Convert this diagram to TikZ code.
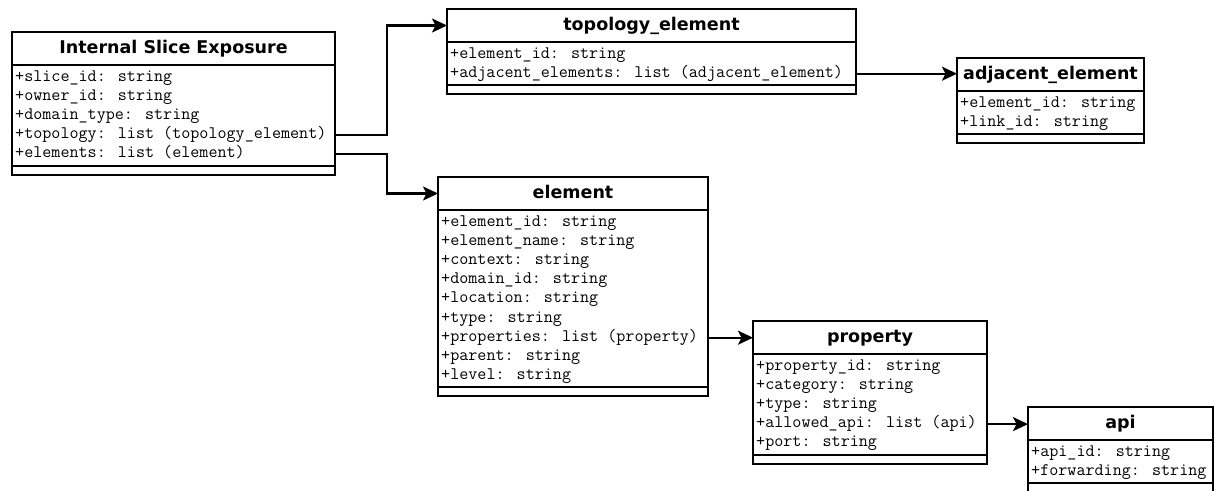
\documentclass[tikz,border=0pt]{standalone}
\usepackage{fontspec}
\newfontfamily\clsfont{DejaVu Sans}
\usetikzlibrary{positioning,arrows.meta}
\tikzset{
  cls/.style={draw,line width=2.2pt,inner sep=0pt,outer sep=0pt},
  clstitle/.style={cls,anchor=north west,minimum height=33pt,text height=12.5pt,text depth=3.5pt,
    font=\clsfont\bfseries\fontsize{17.5}{19}\selectfont},
  clsbody/.style={cls,minimum height=#1},
  clsfoot/.style={cls,minimum height=9pt},
  attr/.style={anchor=west,inner sep=0pt,text height=11pt,text depth=4pt,
    font=\ttfamily\fontsize{17.6}{19}\selectfont},
  link/.style={line width=2.2pt,-{Stealth[length=15pt,width=14pt,inset=3.5pt]}}
}

\begin{document}
\begin{tikzpicture}[x=1pt,y=-1pt]
  \clip (0,0) rectangle (1214,490);

  % Internal Slice Exposure
  \node[clstitle,minimum width=323pt] (ise) at (12,32) {Internal Slice Exposure};
  \node[clsbody=101pt,minimum width=323pt,below=0pt of ise] (isebody) {};
  \node[clsfoot,minimum width=323pt,below=0pt of isebody] (isefoot) {};
  \foreach \t [count=\i] in {+slice\_id: string,+owner\_id: string,+domain\_type: string,
      +topology: list (topology\_element),+elements: list (element)}
    \node[attr] (ise\i) at ([xshift=3pt,yshift={-12.5pt-(\i-1)*19.2pt}]isebody.north west) {\t};

  % topology_element
  \node[clstitle,minimum width=409pt] (topo) at (447,9) {topology\_element};
  \node[clsbody=43pt,minimum width=409pt,below=0pt of topo] (topobody) {};
  \node[clsfoot,minimum width=409pt,below=0pt of topobody] (topofoot) {};
  \foreach \t [count=\i] in {+element\_id: string,+adjacent\_elements: list (adjacent\_element)}
    \node[attr] (topo\i) at ([xshift=3pt,yshift={-12.5pt-(\i-1)*19.2pt}]topobody.north west) {\t};

  % adjacent_element
  \node[clstitle,minimum width=187pt] (adj) at (957,58) {adjacent\_element};
  \node[clsbody=43pt,minimum width=187pt,below=0pt of adj] (adjbody) {};
  \node[clsfoot,minimum width=187pt,below=0pt of adjbody] (adjfoot) {};
  \foreach \t [count=\i] in {+element\_id: string,+link\_id: string}
    \node[attr] (adj\i) at ([xshift=3pt,yshift={-12.5pt-(\i-1)*19.2pt}]adjbody.north west) {\t};

  % element
  \node[clstitle,minimum width=270pt] (elem) at (438,177) {element};
  \node[clsbody=177pt,minimum width=270pt,below=0pt of elem] (elembody) {};
  \node[clsfoot,minimum width=270pt,below=0pt of elembody] (elemfoot) {};
  \foreach \t [count=\i] in {+element\_id: string,+element\_name: string,+context: string,
      +domain\_id: string,+location: string,+type: string,+properties: list (property),
      +parent: string,+level: string}
    \node[attr] (elem\i) at ([xshift=3pt,yshift={-12.5pt-(\i-1)*19.2pt}]elembody.north west) {\t};

  % property
  \node[clstitle,minimum width=234pt] (prop) at (753,321) {property};
  \node[clsbody=101pt,minimum width=234pt,below=0pt of prop] (propbody) {};
  \node[clsfoot,minimum width=234pt,below=0pt of propbody] (propfoot) {};
  \foreach \t [count=\i] in {+property\_id: string,+category: string,+type: string,
      +allowed\_api: list (api),+port: string}
    \node[attr] (prop\i) at ([xshift=3pt,yshift={-12.5pt-(\i-1)*19.2pt}]propbody.north west) {\t};

  % api
  \node[clstitle,minimum width=185pt] (api) at (1028,407) {api};
  \node[clsbody=43pt,minimum width=185pt,below=0pt of api] (apibody) {};
  \node[clsfoot,minimum width=185pt,below=0pt of apibody] (apifoot) {};
  \foreach \t [count=\i] in {+api\_id: string,+forwarding: string}
    \node[attr] (api\i) at ([xshift=3pt,yshift={-12.5pt-(\i-1)*19.2pt}]apibody.north west) {\t};

  % links
  \draw[link] (ise4 -| isebody.east) -- ++(52,0) |- (topo.west);
  \draw[link] (ise5 -| isebody.east) -- ++(52,0) |- (elem.west);
  \draw[link] (topo2 -| topobody.east) -- (topo2 -| adj.west);
  \draw[link] (elem7 -| elembody.east) -- (elem7 -| prop.west);
  \draw[link] (prop4 -| propbody.east) -- (prop4 -| api.west);
\end{tikzpicture}
\end{document}
